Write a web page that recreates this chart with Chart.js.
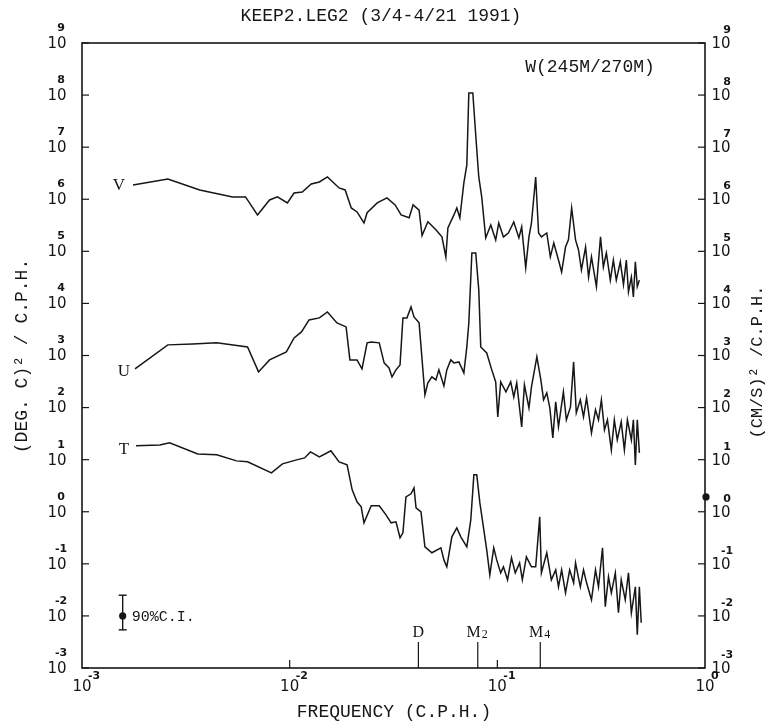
<!DOCTYPE html>
<html>
<head>
<meta charset="utf-8">
<title>KEEP2.LEG2 spectra</title>
<script src="https://cdn.jsdelivr.net/npm/chart.js@4.4.1/dist/chart.umd.min.js"></script>
<style>
  html, body { margin: 0; padding: 0; background: #fff; }
  #wrap { width: 774px; height: 723px; }
</style>
</head>
<body>
<div id="wrap"><canvas id="spec" width="774" height="723"></canvas></div>
<script>
// frequency in C.P.H., spectral density

// V component, (CM/S)^2/C.P.H.
const freqV = [1.76e-3, 2.59e-3, 3.69e-3, 5.31e-3, 6.13e-3, 7.00e-3, 8.00e-3, 8.73e-3, 9.75e-3, 1.05e-2,
  1.15e-2, 1.27e-2, 1.39e-2, 1.52e-2, 1.73e-2, 1.85e-2, 1.98e-2, 2.11e-2, 2.28e-2, 2.36e-2,
  2.64e-2, 2.94e-2, 3.22e-2, 3.44e-2, 3.76e-2, 3.93e-2, 4.20e-2, 4.34e-2, 4.63e-2, 5.06e-2,
  5.41e-2, 5.65e-2, 5.78e-2, 6.18e-2, 6.38e-2, 6.60e-2, 6.90e-2, 7.13e-2, 7.29e-2, 7.62e-2,
  7.87e-2, 8.14e-2, 8.41e-2, 8.79e-2, 9.30e-2, 9.82e-2, 0.1016, 0.107, 0.113, 0.120,
  0.127, 0.131, 0.137, 0.142, 0.146, 0.153, 0.158, 0.163, 0.173, 0.180,
  0.187, 0.197, 0.204, 0.213, 0.220, 0.228, 0.238, 0.246, 0.254, 0.266,
  0.275, 0.284, 0.300, 0.314, 0.324, 0.335, 0.350, 0.362, 0.374, 0.391,
  0.405, 0.418, 0.428, 0.442, 0.452, 0.462, 0.472, 0.483];
const specV = [1.88e6, 2.45e6, 1.51e6, 1.11e6, 1.11e6, 5.0e5, 9.7e5, 1.11e6, 8.5e5, 1.32e6,
  1.38e6, 1.97e6, 2.15e6, 2.68e6, 1.65e6, 1.51e6, 6.8e5, 5.7e5, 3.5e5, 5.5e5,
  8.5e5, 1.06e6, 7.8e5, 5.0e5, 4.4e5, 7.8e5, 6.2e5, 2.0e5, 3.7e5, 2.6e5,
  1.9e5, 7.8e4, 2.8e5, 5.0e5, 6.8e5, 4.4e5, 2.06e6, 4.55e6, 1.1e8, 1.1e8,
  1.71e7, 2.68e6, 1.11e6, 1.81e5, 3.2e5, 1.66e5, 3.5e5, 1.89e5, 2.25e5, 3.66e5,
  1.81e5, 2.94e5, 4.8e4, 1.89e5, 3.5e5, 2.68e6, 2.25e5, 1.89e5, 2.25e5, 7.8e4,
  1.45e5, 6.8e4, 4.0e4, 1.21e5, 1.66e5, 6.8e5, 1.66e5, 1.06e5, 4.4e4, 1.21e5,
  3.2e4, 7.8e4, 2.1e4, 1.89e5, 5.0e4, 9.3e4, 2.8e4, 6.8e4, 2.8e4, 6.3e4,
  2.3e4, 6.8e4, 1.66e4, 3.2e4, 1.33e4, 6.3e4, 2.1e4, 2.8e4];

// U component
const freqU = [1.80e-3, 2.59e-3, 3.41e-3, 4.45e-3, 6.27e-3, 7.08e-3, 8.00e-3, 9.64e-3, 1.05e-2, 1.14e-2,
  1.24e-2, 1.39e-2, 1.52e-2, 1.69e-2, 1.87e-2, 1.95e-2, 2.11e-2, 2.23e-2, 2.36e-2, 2.47e-2,
  2.70e-2, 2.85e-2, 3.01e-2, 3.11e-2, 3.25e-2, 3.40e-2, 3.51e-2, 3.67e-2, 3.84e-2, 3.97e-2,
  4.20e-2, 4.48e-2, 4.63e-2, 4.84e-2, 5.06e-2, 5.23e-2, 5.53e-2, 5.71e-2, 5.97e-2, 6.18e-2,
  6.53e-2, 6.90e-2, 7.13e-2, 7.29e-2, 7.54e-2, 7.87e-2, 8.14e-2, 8.32e-2, 8.89e-2, 9.40e-2,
  9.82e-2, 0.1005, 0.1038, 0.110, 0.116, 0.120, 0.124, 0.131, 0.135, 0.142,
  0.146, 0.155, 0.162, 0.167, 0.173, 0.179, 0.185, 0.191, 0.197, 0.208,
  0.215, 0.225, 0.233, 0.240, 0.251, 0.260, 0.269, 0.284, 0.297, 0.307,
  0.317, 0.328, 0.339, 0.354, 0.366, 0.378, 0.395, 0.409, 0.423, 0.442,
  0.452, 0.462, 0.472, 0.483];
const specU = [553, 1600, 1670, 1750, 1460, 484, 824, 1170, 2180, 2840,
  4820, 5270, 6870, 4230, 3540, 824, 824, 553, 1750, 1820,
  1750, 721, 578, 388, 530, 661, 5270, 5270, 8570, 5510,
  4230, 175, 298, 388, 340, 530, 261, 530, 824, 721,
  753, 463, 1460, 4230, 9.31e4, 9.31e4, 1.82e4, 1460, 1120, 530,
  311, 66.2, 311, 200, 311, 160, 298, 42.7, 273, 98.6,
  250, 940, 340, 141, 191, 98.6, 26.2, 129, 42.7, 200,
  58.1, 103, 753, 79.1, 141, 66.2, 153, 32.7, 90.4, 58.1,
  141, 37.3, 58.1, 15.4, 58.1, 24.0, 53.2, 15.4, 58.1, 24.0,
  58.1, 7.94, 58.1, 13.5];

// T, (DEG. C)^2/C.P.H.
const freqT = [1.82e-3, 2.37e-3, 2.64e-3, 3.61e-3, 4.45e-3, 5.55e-3, 6.27e-3, 8.17e-3, 9.23e-3, 1.08e-2,
  1.18e-2, 1.26e-2, 1.39e-2, 1.58e-2, 1.73e-2, 1.89e-2, 2.00e-2, 2.11e-2, 2.21e-2, 2.28e-2,
  2.47e-2, 2.70e-2, 2.91e-2, 3.08e-2, 3.25e-2, 3.40e-2, 3.51e-2, 3.63e-2, 3.84e-2, 3.97e-2,
  4.06e-2, 4.29e-2, 4.48e-2, 4.84e-2, 5.35e-2, 5.53e-2, 5.71e-2, 6.04e-2, 6.38e-2, 6.67e-2,
  7.13e-2, 7.45e-2, 7.71e-2, 7.96e-2, 8.24e-2, 8.61e-2, 8.89e-2, 9.20e-2, 9.61e-2, 9.93e-2,
  0.1038, 0.107, 0.112, 0.117, 0.122, 0.128, 0.132, 0.138, 0.146, 0.153,
  0.160, 0.163, 0.173, 0.182, 0.191, 0.197, 0.204, 0.213, 0.223, 0.233,
  0.238, 0.251, 0.260, 0.269, 0.284, 0.297, 0.307, 0.321, 0.331, 0.343,
  0.354, 0.370, 0.383, 0.395, 0.413, 0.428, 0.442, 0.462, 0.472, 0.483, 0.493];
const specT = [18.4, 19.2, 21.0, 12.9, 12.4, 9.48, 9.08, 5.58, 8.30, 9.91,
  10.8, 14.1, 11.3, 14.8, 9.08, 7.94, 2.63, 1.55, 1.24, 0.612,
  1.30, 1.30, 0.871, 0.612, 0.640, 0.316, 0.394, 1.93, 2.21, 2.88,
  1.19, 0.995, 0.212, 0.163, 0.203, 0.119, 0.0875, 0.330, 0.491, 0.330,
  0.212, 0.700, 5.11, 5.11, 1.48, 0.450, 0.186, 0.0615, 0.203, 0.119,
  0.0671, 0.0875, 0.0493, 0.130, 0.0671, 0.104, 0.0493, 0.136, 0.0875, 0.0875,
  0.798, 0.0671, 0.163, 0.0493, 0.0767, 0.0362, 0.0767, 0.0277, 0.0767, 0.0432,
  0.104, 0.0362, 0.0767, 0.0432, 0.0204, 0.0767, 0.0362, 0.203, 0.0150, 0.0562,
  0.0277, 0.0671, 0.0115, 0.0493, 0.0204, 0.0671, 0.0115, 0.0362, 0.00434, 0.0362, 0.00738];

// tidal marks along the bottom
const tideNames = ['D', 'M', 'M'];
const tideSubs  = ['', '2', '4'];
const tideFreqs = [0.04167, 0.0805, 0.161];

// decade ticks
const yTickValues = [1e-3, 1e-2, 1e-1, 1, 1e1, 1e2, 1e3, 1e4, 1e5, 1e6, 1e7, 1e8, 1e9];
const yTickExps   = ['-3', '-2', '-1', '0', '1', '2', '3', '4', '5', '6', '7', '8', '9'];
const xTickValues = [1e-3, 1e-2, 1e-1, 1];
const xTickExps   = ['-3', '-2', '-1', '0'];

// 90% confidence interval bar
const ciFreq = 1.57e-3;
const ciMid = 1e-2, ciLow = 5.4e-3, ciHigh = 2.5e-2;
const sideDot = { x: 1, y: 1.93 };

const INK = '#161616';
const MONO = '"Liberation Mono", monospace';
const SERIF = '"Liberation Serif", serif';
const SANS = '"DejaVu Sans", sans-serif';

const toPts = (fs, vs) => fs.map((f, i) => ({ x: f, y: vs[i] }));

function seg(ctx, x1, y1, x2, y2) {
  ctx.beginPath(); ctx.moveTo(x1, y1); ctx.lineTo(x2, y2); ctx.stroke();
}

/* ---- frame, ticks, labels and annotations ---- */
const decor = {
  id: 'decor',
  afterDatasetsDraw(chart) {
    const { ctx, chartArea: a, scales: { x, y } } = chart;
    ctx.save();
    ctx.strokeStyle = INK; ctx.fillStyle = INK;

    ctx.lineWidth = 1.6;
    ctx.strokeRect(a.left, a.top, a.right - a.left, a.bottom - a.top);

    // y decades, both sides
    ctx.lineWidth = 1.2;
    ctx.textBaseline = 'middle';
    yTickValues.forEach((v, i) => {
      const py = y.getPixelForValue(v);
      seg(ctx, a.left, py, a.left + 7, py);
      seg(ctx, a.right - 7, py, a.right, py);
      ctx.textAlign = 'center';
      ctx.font = '15px ' + SANS;
      ctx.fillText('10', a.left - 25, py + 1);
      ctx.fillText('10', a.right + 16, py + 1);
      ctx.font = 'bold 11px ' + SANS;
      ctx.fillText(yTickExps[i], a.left - 21, py - 15);
      ctx.fillText(yTickExps[i], a.right + 22, py - 13);
    });

    // x decades
    xTickValues.forEach((v, i) => {
      const px = x.getPixelForValue(v);
      if (i > 0 && i < xTickValues.length - 1) seg(ctx, px, a.bottom, px, a.bottom - 8);
      ctx.textAlign = 'center';
      ctx.font = '15px ' + SANS;
      ctx.fillText('10', px, a.bottom + 19);
      ctx.textAlign = 'left';
      ctx.font = 'bold 11px ' + SANS;
      ctx.fillText(xTickExps[i], px + 6, a.bottom + 8);
    });

    // tidal frequency marks
    tideFreqs.forEach((f, i) => {
      const px = x.getPixelForValue(f);
      seg(ctx, px, a.bottom, px, a.bottom - 26);
      ctx.font = '16px ' + SERIF;
      ctx.textAlign = tideSubs[i] ? 'right' : 'center';
      const lx = tideSubs[i] ? px + 3 : px;
      ctx.fillText(tideNames[i], lx, a.bottom - 35);
      if (tideSubs[i]) {
        ctx.textAlign = 'left';
        ctx.font = '12px ' + SERIF;
        ctx.fillText(tideSubs[i], lx + 1, a.bottom - 33);
      }
    });

    // confidence interval
    const cx = x.getPixelForValue(ciFreq);
    const yTop = y.getPixelForValue(ciHigh), yBot = y.getPixelForValue(ciLow), yMid = y.getPixelForValue(ciMid);
    ctx.lineWidth = 1.4;
    seg(ctx, cx, yTop, cx, yBot);
    seg(ctx, cx - 4, yTop, cx + 4, yTop);
    seg(ctx, cx - 4, yBot, cx + 4, yBot);
    ctx.beginPath(); ctx.arc(cx, yMid, 3.6, 0, Math.PI * 2); ctx.fill();
    ctx.textAlign = 'left';
    ctx.font = '15px ' + MONO;
    ctx.fillText('90%C.I.', cx + 9, yMid + 1);

    // dot beside the right axis
    ctx.beginPath();
    ctx.arc(x.getPixelForValue(sideDot.x) + 1, y.getPixelForValue(sideDot.y), 3.6, 0, Math.PI * 2);
    ctx.fill();

    // series letters
    ctx.font = '17px ' + SERIF;
    ctx.textAlign = 'center';
    ctx.fillText('V', a.left + 37, y.getPixelForValue(specV[0]) + 1);
    ctx.fillText('U', a.left + 42, y.getPixelForValue(specU[0]) + 3);
    ctx.fillText('T', a.left + 42, y.getPixelForValue(specT[0]) + 4);

    // texts
    ctx.font = '18px ' + MONO;
    ctx.fillText('KEEP2.LEG2 (3/4-4/21 1991)', 381, 16);
    ctx.fillText('W(245M/270M)', 590, 67);
    ctx.fillText('FREQUENCY (C.P.H.)', 394, 712);

    ctx.save();
    ctx.translate(22, 356);
    ctx.rotate(-Math.PI / 2);
    ctx.fillText('(DEG. C)\u00b2 / C.P.H.', 0, 0);
    ctx.restore();

    ctx.save();
    ctx.translate(757, 362);
    ctx.rotate(-Math.PI / 2);
    ctx.font = '17px ' + MONO;
    ctx.fillText('(CM/S)\u00b2 /C.P.H.', 0, 0);
    ctx.restore();

    ctx.restore();
  }
};

function lineSet(label, fs, vs) {
  return {
    label,
    data: toPts(fs, vs),
    showLine: true,
    borderColor: INK,
    borderWidth: 1.5,
    pointRadius: 0,
    tension: 0
  };
}

new Chart(document.getElementById('spec'), {
  type: 'scatter',
  data: {
    datasets: [
      lineSet('V', freqV, specV),
      lineSet('U', freqU, specU),
      lineSet('T', freqT, specT)
    ]
  },
  options: {
    responsive: false,
    animation: false,
    devicePixelRatio: 1,
    layout: { padding: { left: 82, right: 69, top: 43, bottom: 55 } },
    plugins: { legend: { display: false }, tooltip: { enabled: false } },
    scales: {
      x: { type: 'logarithmic', min: 1e-3, max: 1, display: false },
      y: { type: 'logarithmic', min: 1e-3, max: 1e9, display: false }
    }
  },
  plugins: [decor]
});
</script>
</body>
</html>
